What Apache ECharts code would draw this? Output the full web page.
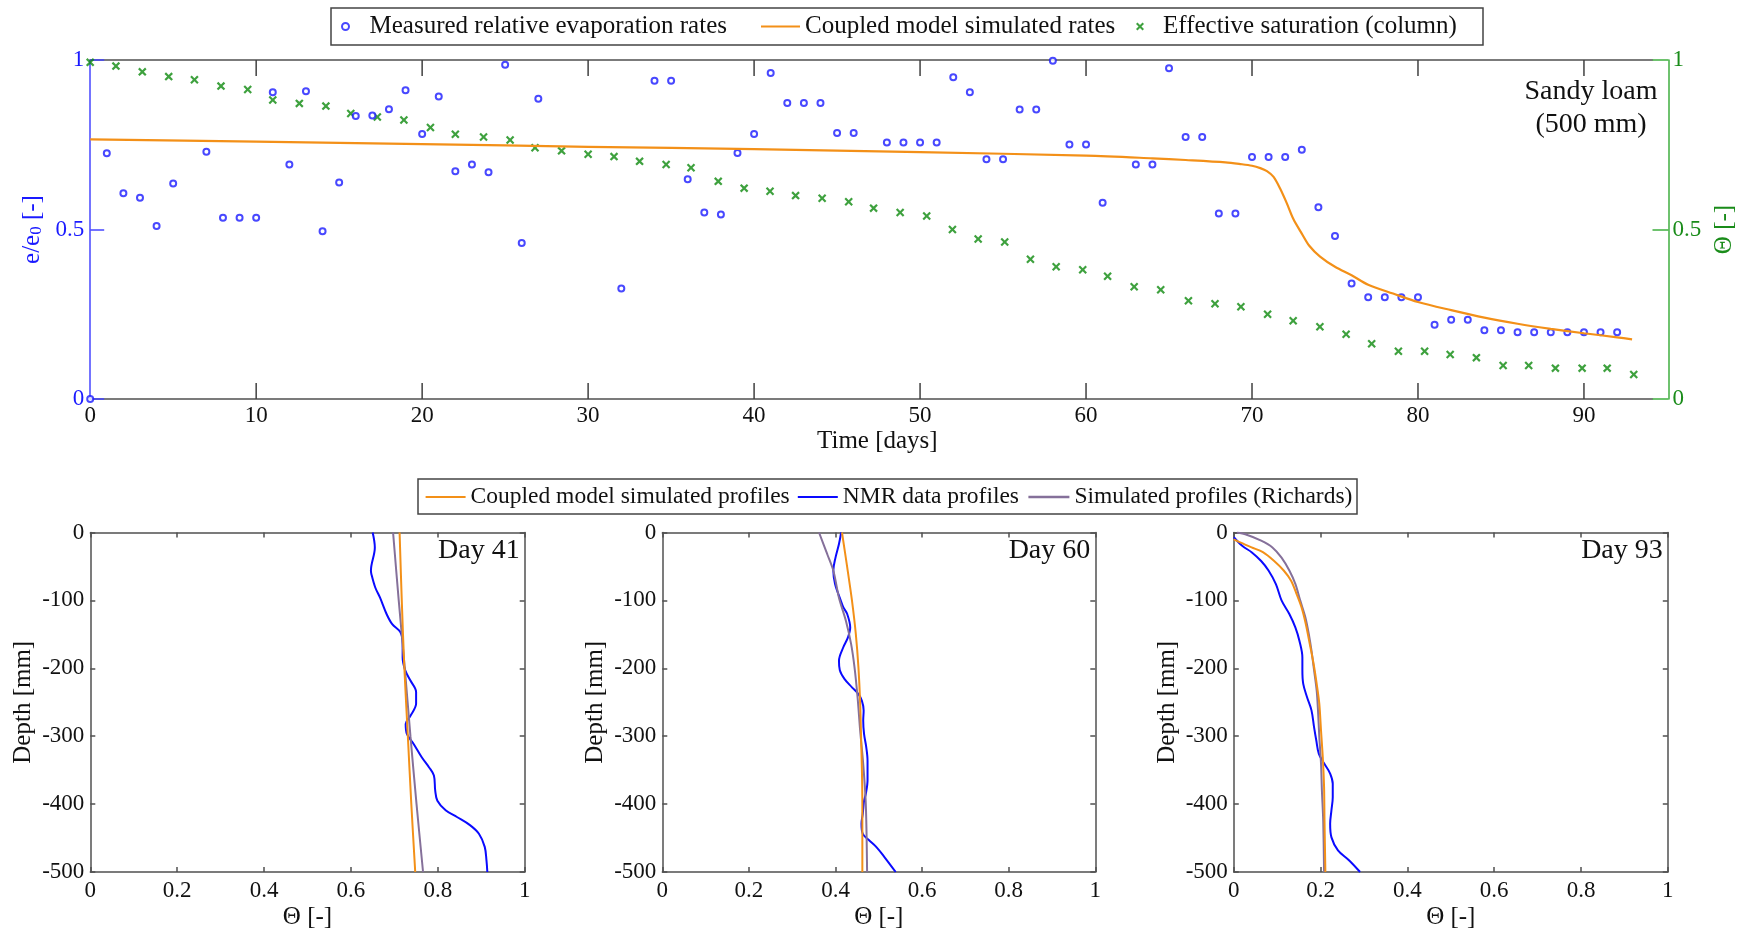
<!DOCTYPE html>
<html>
<head>
<meta charset="utf-8">
<script src="https://cdn.jsdelivr.net/npm/echarts@6/dist/echarts.min.js"></script>
<style>
  html, body { margin: 0; padding: 0; background: #ffffff; }
  #chart { width: 1747px; height: 931px; }
</style>
</head>
<body>
<div id="chart"></div>
<script>
// ---------- Evaporation time series (sandy loam, 500 mm column) ----------
const dayTickStep = 10;
const dayTickLast = 90;
const dayTickMarks = [10, 20, 30, 40, 50, 60, 70, 80, 90];
const rateTickStep = 0.5;

const measuredDays = [0, 1, 2, 3, 4, 5, 7, 8, 9, 10, 11, 12, 13, 14, 15, 16, 17, 18, 19, 20, 21, 22, 23, 24, 25, 26, 27,
  32, 34, 35, 36, 37, 38, 39, 40, 41, 42, 43, 44, 45, 46,
  48, 49, 50, 51, 52, 53, 54, 55, 56, 57, 58, 59, 60, 61,
  63, 64, 65, 66, 67, 68, 69, 70, 71, 72, 73, 74, 75, 76, 77, 78, 79, 80, 81, 82, 83, 84, 85, 86, 87, 88, 89, 90, 91, 92];
const measuredRates = [0.0, 0.725, 0.607, 0.594, 0.510, 0.636, 0.729, 0.535, 0.535, 0.535, 0.905, 0.692, 0.908, 0.495, 0.639,
  0.835, 0.836, 0.855, 0.911, 0.782, 0.892, 0.672, 0.692, 0.669, 0.986, 0.460, 0.886,
  0.326, 0.939, 0.939, 0.648, 0.550, 0.544, 0.726, 0.782, 0.962, 0.873, 0.873, 0.873, 0.785, 0.785,
  0.757, 0.757, 0.757, 0.757, 0.949, 0.905, 0.707, 0.707, 0.854, 0.854, 0.998, 0.751, 0.751, 0.579,
  0.692, 0.692, 0.976, 0.773, 0.773, 0.547, 0.547, 0.714, 0.714, 0.714, 0.735, 0.566, 0.481, 0.341,
  0.300, 0.300, 0.300, 0.300, 0.219, 0.234, 0.234, 0.203, 0.203, 0.197, 0.197, 0.197, 0.197, 0.197, 0.197, 0.197];

const modelDays = [0, 10, 20, 30, 40, 50, 60, 64, 66, 68.4, 69.3, 70, 70.5, 70.9, 71.3, 71.7, 72.1, 72.5, 73, 73.45, 74.1,
  75, 76, 77, 78.5, 80, 82, 84, 86, 88, 90, 92, 92.9];
const modelRates = [0.766, 0.759, 0.752, 0.744, 0.737, 0.728, 0.718, 0.710, 0.705, 0.698, 0.693, 0.688, 0.681, 0.672,
  0.655, 0.620, 0.577, 0.530, 0.488, 0.452, 0.420, 0.390, 0.365, 0.337, 0.311, 0.286, 0.262, 0.240, 0.222, 0.207,
  0.194, 0.182, 0.176];

const saturationDays = [0, 1.55, 3.14, 4.73, 6.28, 7.88, 9.49, 11.0, 12.6, 14.2, 15.7, 17.3, 18.9, 20.5, 22.0, 23.7, 25.3,
  26.8, 28.4, 30.0, 31.56, 33.1, 34.7, 36.2, 37.84, 39.4, 40.96, 42.5, 44.1, 45.7, 47.2, 48.8, 50.4, 51.95, 53.5, 55.1,
  56.65, 58.2, 59.8, 61.3, 62.9, 64.5, 66.17, 67.77, 69.33, 70.94, 72.48, 74.09, 75.67, 77.21, 78.82, 80.4, 81.94,
  83.52, 85.13, 86.67, 88.28, 89.89, 91.4, 93.0];
const saturationValues = [0.993, 0.982, 0.965, 0.951, 0.942, 0.923, 0.913, 0.882, 0.872, 0.864, 0.842, 0.832, 0.823,
  0.801, 0.781, 0.773, 0.764, 0.741, 0.732, 0.722, 0.715, 0.701, 0.692, 0.682, 0.642, 0.622, 0.613, 0.600, 0.592,
  0.582, 0.563, 0.550, 0.540, 0.500, 0.472, 0.463, 0.412, 0.390, 0.381, 0.362, 0.331, 0.322, 0.290, 0.281, 0.272,
  0.250, 0.231, 0.213, 0.191, 0.163, 0.141, 0.141, 0.131, 0.122, 0.099, 0.099, 0.091, 0.091, 0.091, 0.072];

// ---------- Moisture profiles ----------
const thetaTickStep = 0.2;
const depthTickStep = 100;

const coupled41Depth = [0, -100, -200, -300, -400, -500];
const coupled41Theta = [0.712, 0.717, 0.723, 0.731, 0.739, 0.748];
const richards41Depth = [0, -100, -200, -300, -400, -500];
const richards41Theta = [0.697, 0.710, 0.724, 0.737, 0.751, 0.766];
const nmr41Depth = [0, -22, -56, -61, -81, -96, -120, -135, -147, -164, -184, -203, -218, -235, -252, -270, -282, -297,
  -311, -331, -346, -358, -380, -395, -409, -419, -431, -444, -463, -483, -500];
const nmr41Theta = [0.650, 0.655, 0.646, 0.647, 0.656, 0.667, 0.682, 0.695, 0.714, 0.719, 0.719, 0.725, 0.737, 0.750,
  0.750, 0.737, 0.726, 0.729, 0.744, 0.763, 0.780, 0.791, 0.794, 0.799, 0.818, 0.844, 0.874, 0.895, 0.908, 0.912, 0.914];

const coupled60Depth = [0, -51, -100, -150, -199, -252, -301, -350, -400, -500];
const coupled60Theta = [0.415, 0.427, 0.438, 0.447, 0.453, 0.457, 0.459, 0.461, 0.462, 0.462];
const richards60Depth = [0, -32, -56, -96, -130, -164, -199, -243, -292, -341, -400, -500];
const richards60Theta = [0.362, 0.381, 0.395, 0.408, 0.424, 0.436, 0.444, 0.451, 0.457, 0.464, 0.470, 0.473];
const nmr60Depth = [0, -17, -37, -56, -76, -100, -110, -120, -140, -154, -169, -189, -203, -216, -228, -238, -248, -262,
  -277, -297, -316, -336, -365, -385, -395, -414, -429, -444, -453, -463, -478, -500];
const nmr60Theta = [0.413, 0.408, 0.400, 0.395, 0.399, 0.412, 0.418, 0.427, 0.434, 0.429, 0.418, 0.408, 0.410, 0.421,
  0.438, 0.453, 0.461, 0.465, 0.464, 0.466, 0.471, 0.474, 0.474, 0.470, 0.466, 0.463, 0.460, 0.463, 0.477, 0.494, 0.513, 0.539];

const coupled93Depth = [-10, -15, -22, -29, -42, -56, -71, -91, -110, -135, -164, -194, -223, -252, -292, -331, -375, -424, -500];
const coupled93Theta = [0.0, 0.016, 0.041, 0.067, 0.093, 0.115, 0.132, 0.145, 0.156, 0.166, 0.175, 0.184, 0.191, 0.197,
  0.201, 0.205, 0.208, 0.209, 0.211];
const richards93Depth = [0, -3, -12, -22, -37, -56, -76, -100, -125, -150, -174, -203, -233, -262, -301, -341, -380, -424, -500];
const richards93Theta = [0.007, 0.028, 0.063, 0.089, 0.110, 0.128, 0.142, 0.153, 0.165, 0.173, 0.179, 0.185, 0.191,
  0.194, 0.197, 0.201, 0.203, 0.206, 0.208];
const nmr93Depth = [-7, -20, -29, -42, -56, -76, -100, -120, -140, -159, -184, -203, -223, -243, -262, -287, -306, -326,
  -341, -355, -370, -390, -409, -429, -449, -468, -483, -500];
const nmr93Theta = [0.0, 0.020, 0.041, 0.063, 0.080, 0.097, 0.110, 0.128, 0.142, 0.151, 0.158, 0.158, 0.160, 0.169,
  0.179, 0.185, 0.190, 0.196, 0.209, 0.222, 0.228, 0.228, 0.225, 0.222, 0.225, 0.240, 0.266, 0.291];

// ---------- Styling ----------
const FONT = 'Liberation Serif';
const BLUE = '#1a1aff';
const BLUE_AXIS = '#4646ff';
const GREEN = '#1a8c1a';
const GREEN_AXIS = '#3fae3f';
const CROSS_GREEN = '#0e8a0e';
const ORANGE = '#f39018';
const PURPLE = '#85709a';
const NMR_BLUE = '#0a0aff';
const FRAME = '#505050';
const TICK_COLOR = '#404040';
const DAY_MAX = 94.13;
const TICK_LEN = 16;
const CROSS = 'path://M0,1.8L1.8,0L5,3.2L8.2,0L10,1.8L6.8,5L10,8.2L8.2,10L5,6.8L1.8,10L0,8.2L3.2,5Z';
const LINE_ICON = 'path://M0,0H40V2.2H0Z';

const NAME_MEASURED = 'Measured relative evaporation rates';
const NAME_MODEL = 'Coupled model simulated rates';
const NAME_SAT = 'Effective saturation (column)';
const NAME_COUPLED = 'Coupled model simulated profiles';
const NAME_NMR = 'NMR data profiles';
const NAME_RICH = 'Simulated profiles (Richards)';

const pairs = (xs, ys) => xs.map((x, i) => [x, ys[i]]);

const topGrid = { left: 90.2, top: 60, width: 1562.3, height: 339 };
// Companion grid spanning day 0..90 of the same scale; it carries the day labels
const dayTickGrid = { left: topGrid.left, top: topGrid.top, height: topGrid.height,
  width: topGrid.width * dayTickLast / DAY_MAX };
const panelLayout = [
  { left: 90.3, width: 434.4, label: 'Day 41' },
  { left: 662.3, width: 433.0, label: 'Day 60' },
  { left: 1233.8, width: 434.0, label: 'Day 93' }
];
const panelTop = 532.5, panelHeight = 339.5;
const profiles = [
  { coupled: pairs(coupled41Theta, coupled41Depth), nmr: pairs(nmr41Theta, nmr41Depth), rich: pairs(richards41Theta, richards41Depth) },
  { coupled: pairs(coupled60Theta, coupled60Depth), nmr: pairs(nmr60Theta, nmr60Depth), rich: pairs(richards60Theta, richards60Depth) },
  { coupled: pairs(coupled93Theta, coupled93Depth), nmr: pairs(nmr93Theta, nmr93Depth), rich: pairs(richards93Theta, richards93Depth) }
];

const grids = [topGrid]
  .concat(panelLayout.map(p => ({ left: p.left, top: panelTop, width: p.width, height: panelHeight })))
  .concat([dayTickGrid]);
const TICK_GRID = 4;

const tickFont = { fontFamily: FONT, fontSize: 23 };
const frameLine = () => ({ show: true, onZero: false, lineStyle: { color: FRAME, width: 1.5 } });

const xAxes = [
  {
    gridIndex: 0, type: 'value', position: 'bottom', min: 0, max: DAY_MAX,
    axisLine: frameLine(), axisTick: { show: false }, axisLabel: { show: false },
    splitLine: { show: false },
    name: 'Time [days]', nameLocation: 'middle', nameGap: 30,
    nameTextStyle: { fontFamily: FONT, fontSize: 25, color: '#111', padding: [0, 0, 0, 12] }
  },
  {
    gridIndex: 0, type: 'value', position: 'top', min: 0, max: DAY_MAX,
    axisLine: frameLine(), axisTick: { show: false }, axisLabel: { show: false }, splitLine: { show: false }
  }
];
const yAxes = [
  {
    gridIndex: 0, type: 'value', position: 'left', min: 0, max: 1, interval: rateTickStep,
    axisLine: { show: true, onZero: false, lineStyle: { color: BLUE_AXIS, width: 1.5 } },
    axisTick: { show: true, inside: true, length: 14, lineStyle: { color: BLUE_AXIS, width: 1.5 } },
    axisLabel: { ...tickFont, color: BLUE, margin: 6 },
    splitLine: { show: false },
    name: '{n|e/e}{s|0}{n| [-]}', nameLocation: 'middle', nameGap: 44, nameRotate: 90,
    nameTextStyle: {
      fontFamily: FONT, fontSize: 25, color: BLUE,
      rich: {
        n: { fontFamily: FONT, fontSize: 25, color: BLUE, verticalAlign: 'bottom', lineHeight: 30 },
        s: { fontFamily: FONT, fontSize: 17, color: BLUE, verticalAlign: 'bottom', lineHeight: 12 }
      }
    }
  },
  {
    gridIndex: 0, type: 'value', position: 'right', offset: 16, min: 0, max: 1, interval: rateTickStep,
    axisLine: { show: true, onZero: false, lineStyle: { color: GREEN_AXIS, width: 1.5 } },
    axisTick: { show: true, inside: true, length: 16, lineStyle: { color: GREEN_AXIS, width: 1.5 } },
    axisLabel: { ...tickFont, color: GREEN, margin: 4 },
    splitLine: { show: false },
    name: 'Θ [-]', nameLocation: 'middle', nameGap: 40, nameRotate: 90,
    nameTextStyle: { fontFamily: FONT, fontSize: 25, color: GREEN }
  }
];

panelLayout.forEach((p, i) => {
  const g = i + 1;
  const tick = { show: true, inside: true, length: 5, lineStyle: { color: FRAME, width: 1.5 } };
  xAxes.push({
    gridIndex: g, type: 'value', position: 'bottom', min: 0, max: 1, interval: thetaTickStep,
    axisLine: frameLine(), axisTick: tick,
    axisLabel: { ...tickFont, color: '#111', margin: 7 },
    splitLine: { show: false },
    name: 'Θ [-]', nameLocation: 'middle', nameGap: 33,
    nameTextStyle: { fontFamily: FONT, fontSize: 25, color: '#111' }
  });
  xAxes.push({
    gridIndex: g, type: 'value', position: 'top', min: 0, max: 1, interval: thetaTickStep,
    axisLine: frameLine(), axisTick: tick, axisLabel: { show: false }, splitLine: { show: false }
  });
  yAxes.push({
    gridIndex: g, type: 'value', position: 'left', min: -500, max: 0, interval: depthTickStep,
    axisLine: frameLine(), axisTick: tick,
    axisLabel: { ...tickFont, color: '#111', margin: 6 },
    splitLine: { show: false },
    name: 'Depth [mm]', nameLocation: 'middle', nameGap: 54, nameRotate: 90,
    nameTextStyle: { fontFamily: FONT, fontSize: 25, color: '#111' }
  });
  yAxes.push({
    gridIndex: g, type: 'value', position: 'right', min: -500, max: 0, interval: depthTickStep,
    axisLine: frameLine(), axisTick: tick, axisLabel: { show: false }, splitLine: { show: false }
  });
});

// Day labels on the companion grid (axis index 8)
xAxes.push({
  gridIndex: TICK_GRID, type: 'value', position: 'bottom', min: 0, max: dayTickLast, interval: dayTickStep,
  axisLine: { show: false, onZero: false }, axisTick: { show: false },
  axisLabel: { ...tickFont, color: '#111', margin: 5 }, splitLine: { show: false }
});
yAxes.push({ gridIndex: TICK_GRID, type: 'value', min: 0, max: 1, show: false });

const series = [
  {
    name: NAME_SAT, type: 'scatter', xAxisIndex: 0, yAxisIndex: 1,
    data: pairs(saturationDays, saturationValues),
    symbol: CROSS, symbolSize: 8.5, itemStyle: { color: CROSS_GREEN }
  },
  {
    name: NAME_MODEL, type: 'line', xAxisIndex: 0, yAxisIndex: 0,
    data: pairs(modelDays, modelRates), smooth: 0.3, symbol: 'none',
    lineStyle: { color: ORANGE, width: 2.2 }, itemStyle: { color: ORANGE }
  },
  {
    name: NAME_MEASURED, type: 'scatter', xAxisIndex: 0, yAxisIndex: 0,
    data: pairs(measuredDays, measuredRates),
    symbol: 'emptyCircle', symbolSize: 6,
    itemStyle: { color: BLUE, borderColor: BLUE, borderWidth: 1 }
  }
];

profiles.forEach((pr, i) => {
  const xi = 2 + i * 2, yi = 2 + i * 2;
  series.push({
    name: NAME_NMR, type: 'line', xAxisIndex: xi, yAxisIndex: yi, data: pr.nmr,
    smooth: 0.35, symbol: 'none', lineStyle: { color: NMR_BLUE, width: 2 }, itemStyle: { color: NMR_BLUE }
  });
  series.push({
    name: NAME_RICH, type: 'line', xAxisIndex: xi, yAxisIndex: yi, data: pr.rich,
    smooth: 0.3, symbol: 'none', lineStyle: { color: PURPLE, width: 2 }, itemStyle: { color: PURPLE }
  });
  series.push({
    name: NAME_COUPLED, type: 'line', xAxisIndex: xi, yAxisIndex: yi, data: pr.coupled,
    smooth: 0.3, symbol: 'none', lineStyle: { color: ORANGE, width: 2 }, itemStyle: { color: ORANGE }
  });
});

// Legends: one component per entry so each icon keeps its own size
const legendText = size => ({ fontFamily: FONT, fontSize: size, color: '#111' });
const legendBase = { orient: 'horizontal', padding: 0, selectedMode: false };
const legends = [
  { ...legendBase, data: [NAME_MEASURED], left: 341, top: 14, itemWidth: 38, itemHeight: 7, textStyle: legendText(25) },
  { ...legendBase, data: [{ name: NAME_MODEL, icon: LINE_ICON }], left: 761, top: 14, itemWidth: 39, itemHeight: 14, textStyle: legendText(25) },
  { ...legendBase, data: [NAME_SAT], left: 1136, top: 14, itemWidth: 36, itemHeight: 8, textStyle: legendText(25) },
  { ...legendBase, data: [{ name: NAME_COUPLED, icon: LINE_ICON }], left: 425.6, top: 485, itemWidth: 40, itemHeight: 14, textStyle: legendText(23.5) },
  { ...legendBase, data: [{ name: NAME_NMR, icon: LINE_ICON }], left: 797.8, top: 485, itemWidth: 40, itemHeight: 14, textStyle: legendText(23.5) },
  { ...legendBase, data: [{ name: NAME_RICH, icon: LINE_ICON }], left: 1028.4, top: 485, itemWidth: 41, itemHeight: 14, textStyle: legendText(23.5) }
];

const graphics = [
  { type: 'rect', shape: { x: 331, y: 8, width: 1152, height: 37 }, style: { fill: 'none', stroke: '#444', lineWidth: 1.5 }, z: 10 },
  { type: 'rect', shape: { x: 418, y: 479, width: 939, height: 35 }, style: { fill: 'none', stroke: '#444', lineWidth: 1.5 }, z: 10 },
  {
    type: 'text', z: 10,
    style: { text: 'Sandy loam\n(500 mm)', x: 1591, y: 75.5, align: 'center', verticalAlign: 'top',
      font: '28px "Liberation Serif"', lineHeight: 33, fill: '#111' }
  }
].concat(panelLayout.map(p => ({
  type: 'text', z: 10,
  style: { text: p.label, x: p.left + p.width - 5, y: panelTop + 4.5, align: 'right', verticalAlign: 'top',
    font: '28px "Liberation Serif"', lineHeight: 28, fill: '#111' }
})));

const chart = echarts.init(document.getElementById('chart'), null, { renderer: 'canvas' });
chart.setOption({
  animation: false,
  backgroundColor: '#ffffff',
  textStyle: { fontFamily: FONT },
  grid: grids,
  xAxis: xAxes,
  yAxis: yAxes,
  legend: legends,
  graphic: graphics,
  series: series
});

// Inward day ticks on the bottom and top edges, placed through the day/rate scales
const tickLines = [];
dayTickMarks.forEach(d => {
  const bottom = chart.convertToPixel({ xAxisIndex: 0, yAxisIndex: 0 }, [d, 0]);
  const top = chart.convertToPixel({ xAxisIndex: 0, yAxisIndex: 0 }, [d, 1]);
  if (!bottom || !top) return;
  tickLines.push({ type: 'line', z: 9, silent: true,
    shape: { x1: bottom[0], y1: bottom[1], x2: bottom[0], y2: bottom[1] - TICK_LEN },
    style: { stroke: TICK_COLOR, lineWidth: 1.5 } });
  tickLines.push({ type: 'line', z: 9, silent: true,
    shape: { x1: top[0], y1: top[1], x2: top[0], y2: top[1] + TICK_LEN },
    style: { stroke: TICK_COLOR, lineWidth: 1.5 } });
});
chart.setOption({ graphic: graphics.concat(tickLines) });
</script>
</body>
</html>
